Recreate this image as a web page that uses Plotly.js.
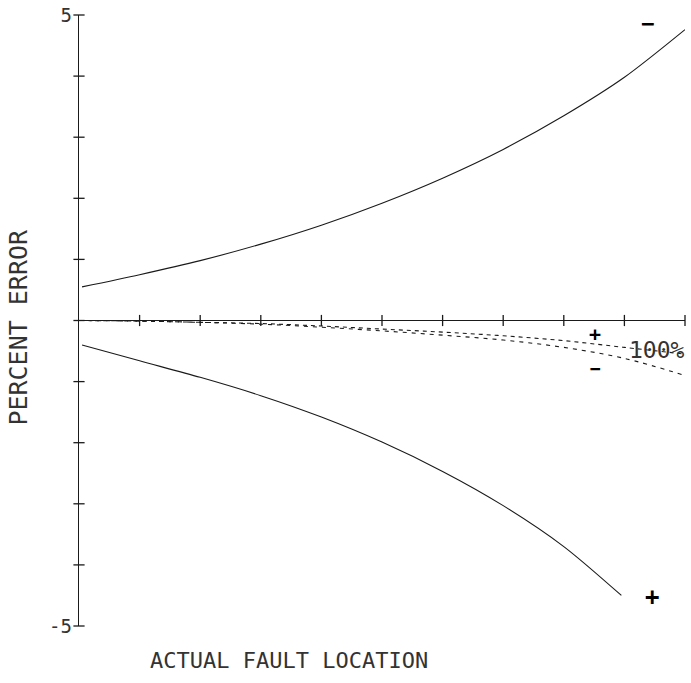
<!DOCTYPE html>
<html>
<head>
<meta charset="utf-8">
<script src="https://cdn.plot.ly/plotly-3.0.1.min.js"></script>
<style>
  html, body { margin: 0; padding: 0; background: #fff; }
  #chart { width: 691px; height: 683px; }
</style>
</head>
<body>
<div id="chart"></div>
<script>
// Fault location (% of line length) and error limits, in percent
const upperX = [0.5, 10, 20, 30, 40, 50, 60, 70, 80, 90, 100];
const upperErr = [0.55, 0.75, 0.98, 1.25, 1.56, 1.92, 2.33, 2.80, 3.35, 3.98, 4.76];

const lowerX = [0.5, 10, 20, 30, 40, 50, 60, 70, 80, 89.5];
const lowerErr = [-0.40, -0.66, -0.93, -1.23, -1.58, -1.99, -2.47, -3.03, -3.70, -4.50];

// Compensated error curves (dashed)
const compX = [0, 10, 20, 30, 40, 50, 60, 70, 80, 90, 100];
const compErrA = [0, -0.01, -0.03, -0.05, -0.09, -0.14, -0.19, -0.25, -0.33, -0.44, -0.55];
const compErrB = [0, -0.01, -0.03, -0.06, -0.11, -0.17, -0.24, -0.32, -0.44, -0.62, -0.90];

// Axis tick positions
const xTicks = [10, 20, 30, 40, 50, 60, 70, 80, 90, 100];
const yTicks = [-5, -4, -3, -2, -1, 0, 1, 2, 3, 4, 5];
const yLabelVals = [-5, 5];
const yLabelText = ['-5', '5'];

const ink = '#1a1a1a';
const font = 'DejaVu Sans Mono, monospace';

const traces = [
  { x: upperX, y: upperErr, mode: 'lines', line: { color: ink, width: 1.1, shape: 'spline', smoothing: 0.8 }, hoverinfo: 'skip' },
  { x: lowerX, y: lowerErr, mode: 'lines', line: { color: ink, width: 1.1, shape: 'spline', smoothing: 0.8 }, hoverinfo: 'skip' },
  { x: compX, y: compErrA, mode: 'lines', line: { color: ink, width: 1.1, dash: '4px,4px', shape: 'spline' }, hoverinfo: 'skip' },
  { x: compX, y: compErrB, mode: 'lines', line: { color: ink, width: 1.1, dash: '4px,5px', shape: 'spline' }, hoverinfo: 'skip' },
  // tick marks crossing the zero line
  { x: xTicks, y: xTicks.map(() => 0), mode: 'markers', cliponaxis: false,
    marker: { symbol: 'line-ns', size: 8, line: { color: ink, width: 1.3 } }, hoverinfo: 'skip' },
  // tick marks crossing the vertical axis
  { x: yTicks.map(() => 0), y: yTicks, mode: 'markers', cliponaxis: false,
    marker: { symbol: 'line-ew', size: 8, line: { color: ink, width: 1.3 } }, hoverinfo: 'skip' }
];

const layout = {
  width: 691,
  height: 683,
  margin: { l: 79, r: 6, t: 15, b: 57 },
  paper_bgcolor: '#fff',
  plot_bgcolor: '#fff',
  showlegend: false,
  xaxis: {
    range: [0, 100],
    showgrid: false,
    zeroline: false,
    showline: false,
    showticklabels: false,
    ticks: ''
  },
  yaxis: {
    range: [-5, 5],
    showgrid: false,
    zeroline: true,
    zerolinecolor: ink,
    zerolinewidth: 1.3,
    showline: true,
    linecolor: ink,
    linewidth: 1.3,
    ticks: '',
    tickvals: yLabelVals,
    ticktext: yLabelText,
    tickfont: { family: font, size: 19, color: '#333' },
    ticklabelstandoff: 2
  },
  annotations: [
    { text: 'ACTUAL FAULT LOCATION', xref: 'paper', yref: 'paper', x: 0.3465, y: -0.056,
      xanchor: 'center', yanchor: 'middle', showarrow: false,
      font: { family: font, size: 22, color: '#333' } },
    { text: 'PERCENT ERROR', xref: 'paper', yref: 'paper', x: -0.100, y: 0.489,
      xanchor: 'center', yanchor: 'middle', textangle: -90, showarrow: false,
      font: { family: font, size: 25, color: '#333' } },
    { text: '100%', x: 95.3, y: -0.48, xanchor: 'center', yanchor: 'middle', showarrow: false,
      font: { family: font, size: 23, color: '#333' } },
    { text: '<b>−</b>', x: 93.8, y: 4.86, xanchor: 'center', yanchor: 'middle', showarrow: false,
      font: { family: font, size: 22, color: '#000' } },
    { text: '<b>+</b>', x: 94.6, y: -4.52, xanchor: 'center', yanchor: 'middle', showarrow: false,
      font: { family: font, size: 24, color: '#000' } },
    { text: '<b>+</b>', x: 85.2, y: -0.22, xanchor: 'center', yanchor: 'middle', showarrow: false,
      font: { family: font, size: 20, color: '#000' } },
    { text: '<b>−</b>', x: 85.2, y: -0.78, xanchor: 'center', yanchor: 'middle', showarrow: false,
      font: { family: font, size: 18, color: '#000' } }
  ]
};

Plotly.newPlot('chart', traces, layout, { displayModeBar: false, staticPlot: true });
</script>
</body>
</html>
